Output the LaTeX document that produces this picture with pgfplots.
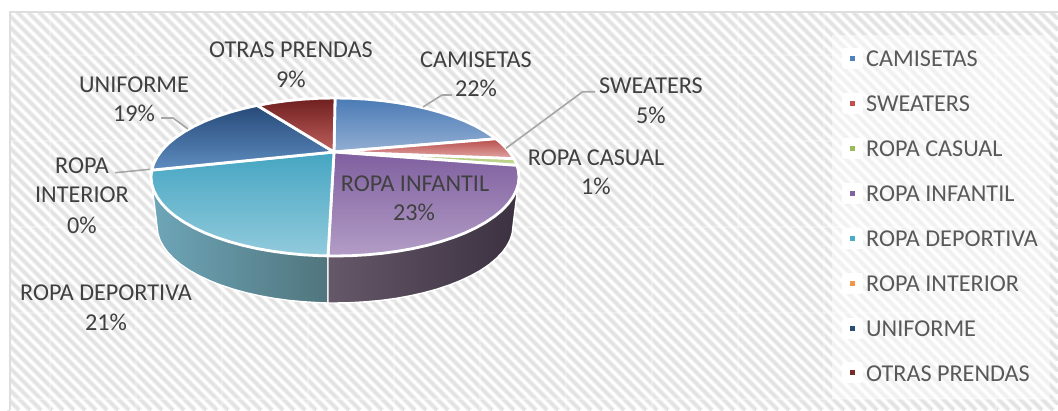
\documentclass[border=0pt]{standalone}
\usepackage{pgfplots}
\pgfplotsset{compat=1.18}
\usepackage{fontspec}
\setmainfont{Carlito}
\definecolor{txt}{HTML}{404040}
\definecolor{legtxt}{HTML}{595959}
\definecolor{leader}{HTML}{A6A6A6}
\definecolor{stripeA}{HTML}{F0F0F0}
\definecolor{stripeB}{HTML}{E2E2E2}
\definecolor{frame}{HTML}{DEDEDE}
\definecolor{sdl}{HTML}{6EA6B8}\definecolor{sdr}{HTML}{50757D}
\definecolor{sil}{HTML}{655869}\definecolor{sir}{HTML}{3B3140}
\definecolor{cat}{HTML}{4A7AB5}\definecolor{cab}{HTML}{93AFD3}
\definecolor{swt}{HTML}{B84C4A}\definecolor{swb}{HTML}{E0A8A6}
\definecolor{cst}{HTML}{9BBB59}\definecolor{csb}{HTML}{CFE0A8}
\definecolor{int}{HTML}{7F5F9F}\definecolor{inb}{HTML}{B39DC6}
\definecolor{det}{HTML}{45A5C2}\definecolor{deb}{HTML}{92CBDC}
\definecolor{unt}{HTML}{264A78}\definecolor{unb}{HTML}{5F8CC0}
\definecolor{ott}{HTML}{6F1F1F}\definecolor{otb}{HTML}{C0605D}
\definecolor{m1}{HTML}{4F81BD}\definecolor{m2}{HTML}{C0504D}
\definecolor{m3}{HTML}{9BBB59}\definecolor{m4}{HTML}{8064A2}
\definecolor{m5}{HTML}{4BACC6}\definecolor{m6}{HTML}{F79646}
\definecolor{m7}{HTML}{2C4D75}\definecolor{m8}{HTML}{772C2A}
\tikzset{lab/.style={text=txt,font=\fontsize{24.2}{28}\selectfont,inner sep=0pt,anchor=center},
 legl/.style={text=legtxt,font=\fontsize{24.2}{28}\selectfont,inner sep=0pt,anchor=base west},
 sec/.style={draw=white,line width=2.8pt,line join=round,mark=none},
 side/.style={draw=white,line width=1.4pt,line join=round,mark=none}}
\begin{document}
\begin{tikzpicture}
\path[use as bounding box] (0,0) rectangle (1058pt,410pt);
\begin{axis}[at={(0,0)},anchor=south west,scale only axis,width=1058pt,height=410pt,
  xmin=0,xmax=1058,ymin=0,ymax=410,y dir=reverse,hide axis,clip=false]
% background stripes
\pgfplotsinvokeforeach{-390,-379,...,1056}{
  \draw[stripeA,line width=5pt] (axis cs:{max(#1,9)},{12+max(0,9-#1)}) -- (axis cs:{min(#1+398,1058)},{12+min(398,1058-#1)});
  \draw[stripeB,line width=2.6pt] (axis cs:{max(#1,9)},{12+max(0,9-#1)}) -- (axis cs:{min(#1+398,1058)},{12+min(398,1058-#1)});
}
% tile seams
\pgfplotsinvokeforeach{50,136,...,1040}{\draw[white,opacity=.3,line width=1.5pt] (axis cs:#1,12) -- (axis cs:#1,410);}
\pgfplotsinvokeforeach{55,141,...,400}{\draw[white,opacity=.3,line width=1.5pt] (axis cs:9,#1) -- (axis cs:1058,#1);}
% outside and frame
\fill[white] (axis cs:0,0) rectangle (axis cs:1058,11);
\fill[white] (axis cs:0,0) rectangle (axis cs:8.5,410);
\draw[color=frame,line width=2pt] (axis cs:9.5,410) -- (axis cs:9.5,12) -- (axis cs:1058,12);
% legend panel
\fill[white,opacity=.5] (axis cs:832,35) rectangle (axis cs:1050,399);

% sides
\addplot[side,left color=sdl,right color=sdr] coordinates {
 (328,255.9)(319,255.7)(303.1,254.8)(287.4,253.3)(272.1,251.2)(257.2,248.6)(243,245.4)(229.5,241.7)(216.7,237.5)(204.9,232.9)(194.1,227.8)(184.3,222.3)(175.7,216.5)(168.2,210.4)(162.1,204)(157.3,197.4)(153.8,190.7)(151.7,183.9)(151,177)
 (157,226)(157.7,232.7)(159.7,239.4)(163.1,245.9)(167.7,252.3)(173.7,258.5)(180.8,264.5)(189.2,270.2)(198.7,275.5)(209.1,280.4)(220.6,285)(232.9,289.1)(246,292.7)(259.8,295.8)(274.1,298.4)(288.9,300.4)(304.1,301.8)(319.5,302.7)(328,303)
} --cycle;
\addplot[side,left color=sil,right color=sir] coordinates {
 (328,255.9)(335,256)(351,255.7)(366.9,254.8)(382.6,253.3)(397.9,251.2)(412.8,248.6)(427,245.4)(440.5,241.7)(453.3,237.5)(465.1,232.9)(475.9,227.8)(485.7,222.3)(494.3,216.5)(501.8,210.4)(507.9,204)(512.7,197.4)(516.2,190.7)(518.3,183.9)(519,177)
 (513,226)(512.3,232.7)(510.3,239.4)(506.9,245.9)(502.3,252.3)(496.3,258.5)(489.2,264.5)(480.8,270.2)(471.3,275.5)(460.9,280.4)(449.4,285)(437.1,289.1)(424,292.7)(410.2,295.8)(395.9,298.4)(381.1,300.4)(365.9,301.8)(350.5,302.7)(335,303)(328,303)
} --cycle;

% tops
\addplot[sec,top color=cat,bottom color=cab] coordinates {
 (334,152)(335,98)(351,98.3)(366.9,99.2)(382.6,100.7)(397.9,102.8)(412.8,105.4)(427,108.6)(440.5,112.3)(453.3,116.5)(465.1,121.1)(475.9,126.2)(485.7,131.7)(494.3,137.5)(496,138.8)
} --cycle;
\addplot[sec,top color=swt,bottom color=swb] coordinates {
 (334,152)(496,138.8)(501.8,143.6)(507.9,150)(512.7,156.6)(514,158.7)
} --cycle;
\addplot[sec,top color=cst,bottom color=csb] coordinates {
 (334,152)(514,158.7)(516.2,163.3)(517,165.4)
} --cycle;
\addplot[sec,top color=int,bottom color=inb] coordinates {
 (334,152)(517,165.4)(518.3,170.1)(519,177)(518.3,183.9)(516.2,190.7)(512.7,197.4)(507.9,204)(501.8,210.4)(494.3,216.5)(485.7,222.3)(475.9,227.8)(465.1,232.9)(453.3,237.5)(440.5,241.7)(427,245.4)(412.8,248.6)(397.9,251.2)(382.6,253.3)(366.9,254.8)(351,255.7)(335,256)(328,255.9)
} --cycle;
\addplot[sec,top color=det,bottom color=deb] coordinates {
 (334,152)(328,255.9)(319,255.7)(303.1,254.8)(287.4,253.3)(272.1,251.2)(257.2,248.6)(243,245.4)(229.5,241.7)(216.7,237.5)(204.9,232.9)(194.1,227.8)(184.3,222.3)(175.7,216.5)(168.2,210.4)(162.1,204)(157.3,197.4)(153.8,190.7)(151.7,183.9)(151,177)(151.7,170.1)
} --cycle;
\addplot[sec,top color=unt,bottom color=unb] coordinates {
 (334,152)(151.7,170.1)(153.8,163.3)(157.3,156.6)(162.1,150)(168.2,143.6)(175.7,137.5)(184.3,131.7)(194.1,126.2)(204.9,121.1)(216.7,116.5)(229.5,112.3)(243,108.6)(257.2,105.4)
} --cycle;
\addplot[sec,top color=ott,bottom color=otb] coordinates {
 (334,152)(257.2,105.4)(272.1,102.8)(287.4,100.7)(303.1,99.2)(319,98.3)(335,98)
} --cycle;

% leader lines
\addplot[leader,line width=1.6pt,mark=none] coordinates {(423,107)(442,95)(452,95)};
\addplot[leader,line width=1.6pt,mark=none] coordinates {(506,148.3)(582.7,91.7)(595,91.7)};
\addplot[leader,line width=1.6pt,mark=none] coordinates {(188,129)(173,118)(161,118)};
\addplot[leader,line width=1.6pt,mark=none] coordinates {(150,169.3)(115,172.7)};

% data labels
\node[lab] at (axis cs:291,50) {OTRAS PRENDAS};
\node[lab] at (axis cs:291,79) {9\%};
\node[lab] at (axis cs:476,60) {CAMISETAS};
\node[lab] at (axis cs:476,88) {22\%};
\node[lab] at (axis cs:651,86) {SWEATERS};
\node[lab] at (axis cs:651,115) {5\%};
\node[lab] at (axis cs:596,158) {ROPA CASUAL};
\node[lab] at (axis cs:596,186) {1\%};
\node[lab] at (axis cs:415,184) {ROPA INFANTIL};
\node[lab] at (axis cs:414,212) {23\%};
\node[lab] at (axis cs:106,293) {ROPA DEPORTIVA};
\node[lab] at (axis cs:106,322) {21\%};
\node[lab] at (axis cs:82,166) {ROPA};
\node[lab] at (axis cs:82,195) {INTERIOR};
\node[lab] at (axis cs:82,225) {0\%};
\node[lab] at (axis cs:134,85) {UNIFORME};
\node[lab] at (axis cs:134,113) {19\%};

% legend
\addplot[only marks,mark=square*,mark size=7.5pt,white,mark options={line join=round,line width=6pt,draw=white,fill=white}] coordinates {(852.7,58)(852.7,103)(852.7,148)(852.7,193)(852.7,238)(852.7,283)(852.7,328)(852.7,372.5)};
\addplot[only marks,mark=square*,mark size=2pt,m1,mark options={draw=m1,fill=m1,line width=0pt}] coordinates {(852.7,58)};
\addplot[only marks,mark=square*,mark size=2pt,m2,mark options={draw=m2,fill=m2,line width=0pt}] coordinates {(852.7,103)};
\addplot[only marks,mark=square*,mark size=2pt,m3,mark options={draw=m3,fill=m3,line width=0pt}] coordinates {(852.7,148)};
\addplot[only marks,mark=square*,mark size=2pt,m4,mark options={draw=m4,fill=m4,line width=0pt}] coordinates {(852.7,193)};
\addplot[only marks,mark=square*,mark size=2pt,m5,mark options={draw=m5,fill=m5,line width=0pt}] coordinates {(852.7,238)};
\addplot[only marks,mark=square*,mark size=2pt,m6,mark options={draw=m6,fill=m6,line width=0pt}] coordinates {(852.7,283)};
\addplot[only marks,mark=square*,mark size=2pt,m7,mark options={draw=m7,fill=m7,line width=0pt}] coordinates {(852.7,328)};
\addplot[only marks,mark=square*,mark size=2pt,m8,mark options={draw=m8,fill=m8,line width=0pt}] coordinates {(852.7,372.5)};
\node[legl] at (axis cs:866,66) {CAMISETAS};
\node[legl] at (axis cs:866,111) {SWEATERS};
\node[legl] at (axis cs:866,156) {ROPA CASUAL};
\node[legl] at (axis cs:866,201) {ROPA INFANTIL};
\node[legl] at (axis cs:866,246) {ROPA DEPORTIVA};
\node[legl] at (axis cs:866,291) {ROPA INTERIOR};
\node[legl] at (axis cs:866,336) {UNIFORME};
\node[legl] at (axis cs:866,381) {OTRAS PRENDAS};
\end{axis}
\end{tikzpicture}
\end{document}
